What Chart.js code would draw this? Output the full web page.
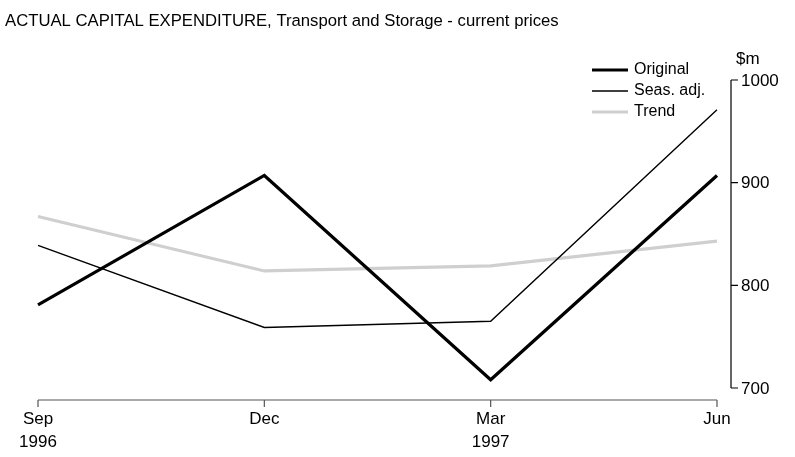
<!DOCTYPE html>
<html>
<head>
<meta charset="utf-8">
<script src="https://cdn.jsdelivr.net/npm/chart.js@4"></script>
<style>
  html, body { margin: 0; padding: 0; background: #fff; }
  #wrap { width: 795px; height: 457px; position: relative; }
</style>
</head>
<body>
<div id="wrap"><canvas id="capexChart"></canvas></div>
<script>
const months = ["Sep", "Dec", "Mar", "Jun"];
const years = ["1996", "", "1997", ""];
const original = [781, 907, 708, 907];
const seasAdj = [839, 759, 765, 971];
const trend = [867, 814, 819, 843];
const yTicks = [700, 800, 900, 1000];

const FONT = "'Liberation Sans', Arial, sans-serif";

// axes, tick labels, title and legend drawn by hand, positioned off the chart's scales
const axesPlugin = {
    id: "absAxes",
    afterDraw(chart) {
        const ctx = chart.ctx;
        const x = chart.scales.x;
        const y = chart.scales.y;
        const area = chart.chartArea;
        ctx.save();

        // title
        ctx.fillStyle = "#000";
        ctx.font = "16.7px " + FONT;
        ctx.textAlign = "left";
        ctx.textBaseline = "middle";
        ctx.fillText("ACTUAL CAPITAL EXPENDITURE, Transport and Storage - current prices", 5, 21);

        // y axis on the right
        const axX = area.right + 14;
        ctx.strokeStyle = "#000";
        ctx.lineWidth = 1.2;
        ctx.beginPath();
        ctx.moveTo(axX, y.getPixelForValue(1000));
        ctx.lineTo(axX, y.getPixelForValue(700));
        yTicks.forEach(v => {
            const py = y.getPixelForValue(v);
            ctx.moveTo(axX, py);
            ctx.lineTo(axX + 7, py);
        });
        ctx.stroke();
        ctx.font = "17px " + FONT;
        yTicks.forEach(v => {
            ctx.fillText(String(v), axX + 10, y.getPixelForValue(v) + 1);
        });
        ctx.fillText("$m", axX + 5, y.getPixelForValue(1000) - 21);

        // x axis below
        const axY = area.bottom + 12;
        ctx.strokeStyle = "#555";
        ctx.beginPath();
        ctx.moveTo(x.getPixelForValue(0), axY);
        ctx.lineTo(x.getPixelForValue(months.length - 1), axY);
        months.forEach((m, i) => {
            const px = x.getPixelForValue(i);
            ctx.moveTo(px, axY);
            ctx.lineTo(px, axY + 7);
        });
        ctx.stroke();
        ctx.textAlign = "center";
        months.forEach((m, i) => {
            const px = x.getPixelForValue(i);
            ctx.fillText(m, px, axY + 19);
            if (years[i]) ctx.fillText(years[i], px, axY + 42);
        });

        // legend
        const items = chart.data.datasets;
        ctx.textAlign = "left";
        ctx.font = "16px " + FONT;
        items.forEach((ds, i) => {
            const ly = 70 + i * 21;
            ctx.strokeStyle = ds.borderColor;
            ctx.lineWidth = ds.borderWidth;
            ctx.beginPath();
            ctx.moveTo(592, ly);
            ctx.lineTo(628, ly);
            ctx.stroke();
            ctx.fillStyle = "#000";
            ctx.fillText(ds.label, 634, ly);
        });
        ctx.restore();
    }
};

new Chart(document.getElementById("capexChart"), {
    type: "line",
    data: {
        labels: months,
        datasets: [
            { label: "Original", data: original, borderColor: "#000", borderWidth: 3.2 },
            { label: "Seas. adj.", data: seasAdj, borderColor: "#000", borderWidth: 1.4 },
            { label: "Trend", data: trend, borderColor: "#cfcfcf", borderWidth: 3.2 }
        ]
    },
    options: {
        responsive: true,
        maintainAspectRatio: false,
        animation: false,
        layout: { padding: { left: 38, right: 78, top: 80, bottom: 69 } },
        elements: { point: { radius: 0 }, line: { tension: 0, borderJoinStyle: "miter" } },
        plugins: { legend: { display: false }, tooltip: { enabled: false } },
        scales: {
            x: { type: "category", offset: false, display: false },
            y: { min: 700, max: 1000, display: false }
        }
    },
    plugins: [axesPlugin]
});
</script>
</body>
</html>
